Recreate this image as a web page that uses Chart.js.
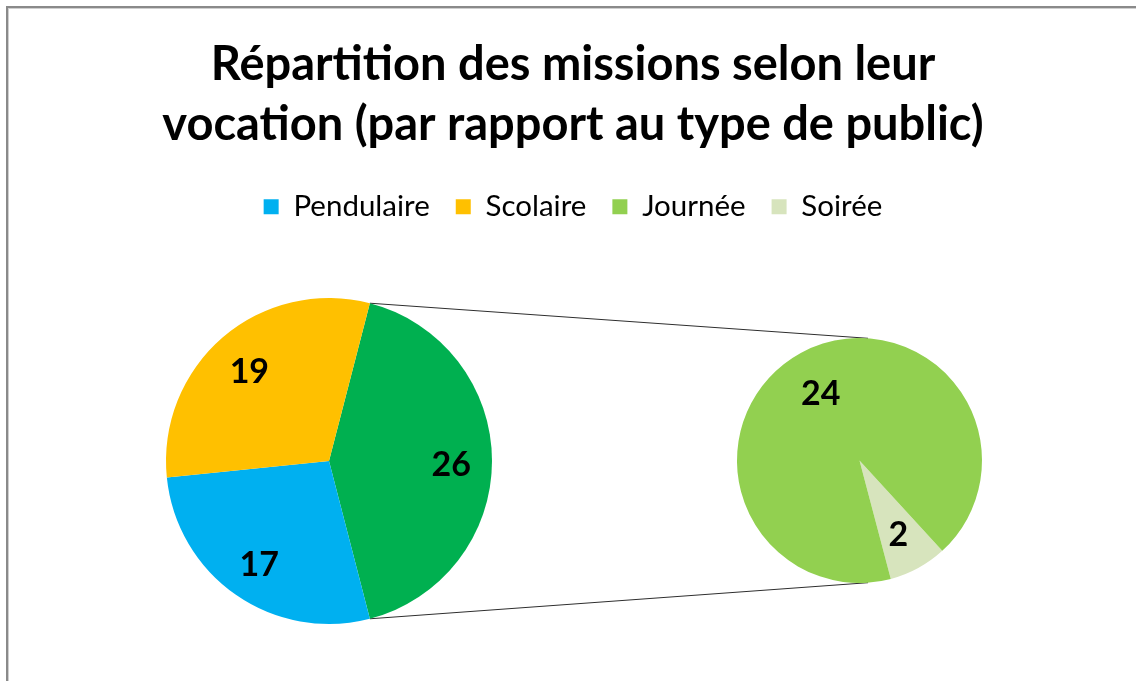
<!DOCTYPE html>
<html lang="fr">
<head>
<meta charset="utf-8">
<title>Répartition des missions</title>
<script src="https://cdn.jsdelivr.net/npm/chart.js@4.4.1/dist/chart.umd.min.js"></script>
<style>
  html, body { margin: 0; padding: 0; background: #fff; overflow: hidden; }
  #wrap { position: relative; width: 1136px; height: 681px; overflow: hidden; }
  #cadre {
    position: absolute; left: 6px; top: 6px; width: 1200px; height: 720px;
    border-left: 2px solid #8a8a8a; border-top: 2px solid #8a8a8a;
    box-shadow: inset 1px 1px 0 #cfcfcf;
  }
  canvas { position: absolute; left: 0; top: 0; }
</style>
</head>
<body>
<div id="wrap">
  <div id="cadre"></div>
  <canvas id="legendChart" width="1136" height="681"></canvas>
  <canvas id="mainPie" width="1136" height="681"></canvas>
  <canvas id="zoomPie" width="1136" height="681"></canvas>
</div>
<script>
const categories = ['Pendulaire', 'Scolaire', 'Journée', 'Soirée'];
const missions = [17, 19, 24, 2];
const colors = ['#00B0F0', '#FFC000', '#92D050', '#D7E4BD'];
const groupColor = '#00B050';
const titleLines = ['Répartition des missions selon leur', 'vocation (par rapport au type de public)'];

Chart.defaults.font.family = 'Lato';
Chart.defaults.animation = false;

// Journée + Soirée are grouped in the big pie and detailed in the small one
const grouped = missions[2] + missions[3];
const total = missions[0] + missions[1] + grouped;
const mainRotation = 90 - (grouped / total * 360) / 2;

const sliceLabels = {
  id: 'sliceLabels',
  afterDatasetsDraw(chart, args, opts) {
    const ctx = chart.ctx;
    const meta = chart.getDatasetMeta(0);
    const values = chart.data.datasets[0].data;
    ctx.save();
    ctx.font = 'bold 34px Lato';
    ctx.fillStyle = '#000';
    ctx.textAlign = 'center';
    ctx.textBaseline = 'middle';
    meta.data.forEach((arc, i) => {
      const { x, y, startAngle, endAngle, outerRadius } = arc.getProps(['x', 'y', 'startAngle', 'endAngle', 'outerRadius'], true);
      const mid = (startAngle + endAngle) / 2;
      const r = outerRadius * opts.distance;
      ctx.fillText(String(values[i]), x + Math.cos(mid) * r, y + Math.sin(mid) * r + 4);
    });
    ctx.restore();
  }
};

const mainChart = new Chart(document.getElementById('mainPie'), {
  type: 'pie',
  data: {
    labels: ['Journée + Soirée', categories[0], categories[1]],
    datasets: [{
      data: [grouped, missions[0], missions[1]],
      backgroundColor: [groupColor, colors[0], colors[1]],
      borderWidth: 0
    }]
  },
  options: {
    responsive: false,
    rotation: mainRotation,
    layout: { padding: { left: 166, right: 644, top: 298, bottom: 57 } },
    plugins: {
      legend: { display: false },
      tooltip: { enabled: false },
      sliceLabels: { distance: 0.75 }
    }
  },
  plugins: [sliceLabels]
});

const zoomChart = new Chart(document.getElementById('zoomPie'), {
  type: 'pie',
  data: {
    labels: [categories[3], categories[2]],
    datasets: [{
      data: [missions[3], missions[2]],
      backgroundColor: [colors[3], colors[2]],
      borderWidth: 0
    }]
  },
  options: {
    responsive: false,
    rotation: 137.5,
    layout: { padding: { left: 737, right: 154, top: 338, bottom: 98 } },
    plugins: {
      legend: { display: false },
      tooltip: { enabled: false },
      sliceLabels: { distance: 0.66 }
    }
  },
  plugins: [sliceLabels]
});

// lines joining the grouped slice to the detail pie
const connectors = {
  id: 'connectors',
  afterDraw(chart) {
    const big = mainChart.getDatasetMeta(0).data[0].getProps(['x', 'y', 'startAngle', 'endAngle', 'outerRadius'], true);
    const small = zoomChart.getDatasetMeta(0).data[0].getProps(['x', 'y', 'outerRadius'], true);
    const tilt = 4 * Math.PI / 180;
    const ends = [
      [big.startAngle, -1],
      [big.endAngle, 1]
    ];
    const ctx = chart.ctx;
    ctx.save();
    ctx.strokeStyle = '#2e2e2e';
    ctx.lineWidth = 1;
    ends.forEach(([a, side]) => {
      ctx.beginPath();
      ctx.moveTo(big.x + Math.cos(a) * big.outerRadius, big.y + Math.sin(a) * big.outerRadius);
      ctx.lineTo(small.x + Math.sin(tilt) * small.outerRadius, small.y + side * Math.cos(tilt) * small.outerRadius);
      ctx.stroke();
    });
    ctx.restore();
  }
};

new Chart(document.getElementById('legendChart'), {
  type: 'pie',
  data: { labels: categories, datasets: [] },
  options: {
    responsive: false,
    layout: { padding: { left: 10 } },
    plugins: {
      title: {
        display: true,
        text: titleLines,
        color: '#000',
        font: { family: 'Lato', size: 47, weight: 'bold', lineHeight: 1.2766 },
        padding: { top: 35, bottom: 11 }
      },
      legend: {
        display: true,
        position: 'top',
        labels: {
          color: '#1a1a1a',
          font: { family: 'Lato', size: 29.5 },
          boxWidth: 15,
          boxHeight: 15,
          padding: 26,
          generateLabels: () => categories.map((c, i) => ({
            text: c,
            fillStyle: colors[i],
            strokeStyle: colors[i],
            lineWidth: 0,
            hidden: false,
            index: i
          }))
        }
      },
      tooltip: { enabled: false }
    }
  },
  plugins: [connectors]
});
</script>
</body>
</html>
